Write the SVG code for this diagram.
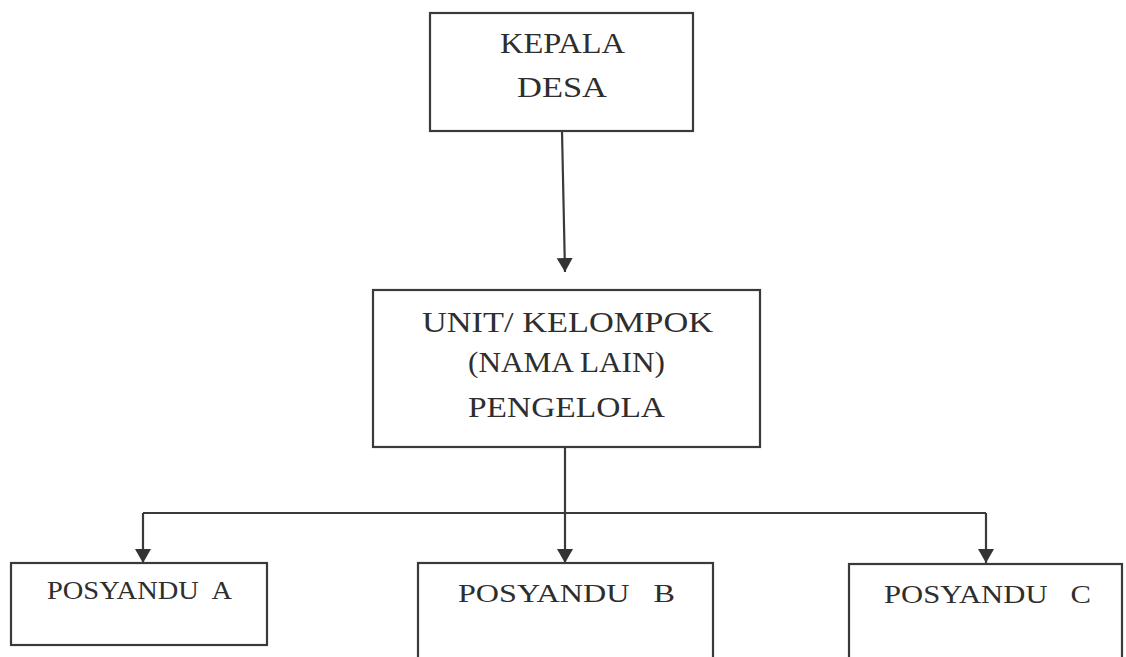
<svg xmlns="http://www.w3.org/2000/svg" width="1126" height="657" viewBox="0 0 1126 657">
<style>
.box{fill:#fff;stroke:#3a3a3a;stroke-width:2.2}
.t{font-family:"Liberation Serif","DejaVu Serif",serif;fill:#2e2e2e;white-space:pre}
.big{font-size:30px}
.small{font-size:25.5px}
.con{fill:none;stroke:#3a3a3a;stroke-width:2.2}
</style>
<defs>
<marker id="ah" viewBox="0 0 14 16" refX="14" refY="8" markerWidth="14" markerHeight="16" markerUnits="userSpaceOnUse" orient="auto">
<path d="M0,0 L14,8 L0,16 z" fill="#333"/>
</marker>
</defs>
<rect width="1126" height="657" fill="#fff"/>
<g id="connectors">
<path class="con" d="M562,131 L565,272" marker-end="url(#ah)"/>
<path class="con" d="M565,447 L565,563" marker-end="url(#ah)"/>
<path class="con" d="M143,513 L986,513"/>
<path class="con" d="M143,513 L143,563" marker-end="url(#ah)"/>
<path class="con" d="M986,513 L986,563" marker-end="url(#ah)"/>
</g>
<g id="kepala-desa">
<rect class="box" x="430" y="13" width="263" height="118"/>
<text class="t big" x="500" y="53" textLength="125" lengthAdjust="spacingAndGlyphs">KEPALA</text>
<text class="t big" x="517" y="97" textLength="90" lengthAdjust="spacingAndGlyphs">DESA</text>
</g>
<g id="unit-kelompok">
<rect class="box" x="373" y="290" width="387" height="157"/>
<text class="t big" x="422" y="332" textLength="291" lengthAdjust="spacingAndGlyphs">UNIT/ KELOMPOK</text>
<text class="t big" x="468" y="372" textLength="197" lengthAdjust="spacingAndGlyphs">(NAMA LAIN)</text>
<text class="t big" x="468" y="417" textLength="197" lengthAdjust="spacingAndGlyphs">PENGELOLA</text>
</g>
<g id="posyandu-a">
<rect class="box" x="11" y="563" width="256" height="82"/>
<text class="t small" x="47" y="599" textLength="185" lengthAdjust="spacingAndGlyphs">POSYANDU  A</text>
</g>
<g id="posyandu-b">
<rect class="box" x="418" y="563" width="295" height="110"/>
<text class="t small" x="458" y="602" textLength="217" lengthAdjust="spacingAndGlyphs">POSYANDU   B</text>
</g>
<g id="posyandu-c">
<rect class="box" x="849" y="564" width="273" height="110"/>
<text class="t small" x="884" y="603" textLength="207" lengthAdjust="spacingAndGlyphs">POSYANDU   C</text>
</g>
</svg>
